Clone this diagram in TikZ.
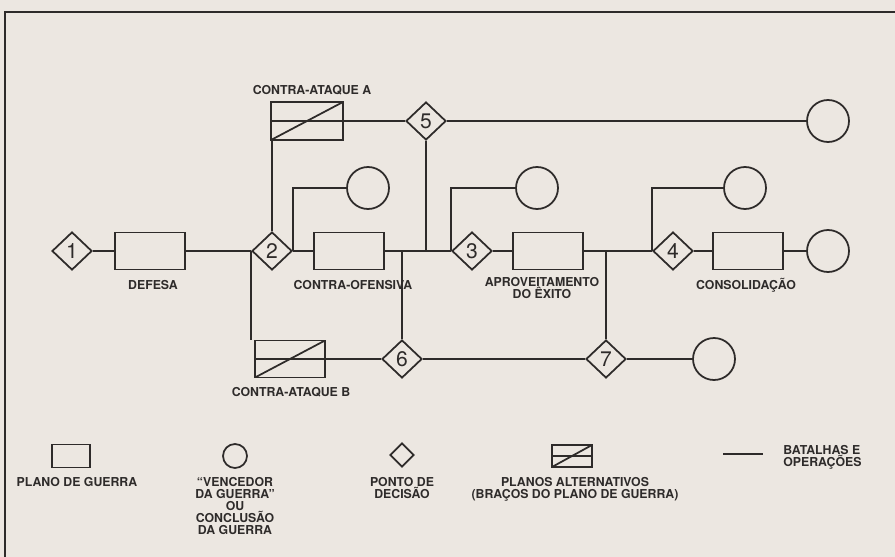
\documentclass[tikz,border=0pt]{standalone}
\usepackage{fontspec}
\setmainfont{TeX Gyre Heros}
\usepackage{xcolor}
\usepackage{tikz}
\usetikzlibrary{shapes.geometric}
\definecolor{paper}{HTML}{ECE7E1}
\definecolor{ink}{HTML}{2E2B2A}
\tikzset{
  plan/.style={
    draw=ink,
    line width=1pt,
    minimum width=1.4cm,
    minimum height=0.74cm,
    inner sep=0pt
  },
  altplan/.style={
    plan,
    path picture={
      \draw[ink, line width=1pt] (path picture bounding box.west) -- (path picture bounding box.east);
      \draw[ink, line width=1pt] (path picture bounding box.south west) -- (path picture bounding box.north east);
    }
  },
  decision/.style={
    diamond,
    draw=ink,
    line width=1pt,
    minimum width=0.8cm,
    minimum height=0.76cm,
    inner sep=0pt,
    text=ink,
    font=\fontsize{12}{12}\selectfont
  },
  outcome/.style={circle, draw=ink, line width=1pt, minimum size=0.84cm, inner sep=0pt},
  battle/.style={draw=ink, line width=1pt},
  frame/.style={draw=ink, line width=1.2pt},
  lbl/.style={font=\fontsize{7}{6.8}\selectfont\bfseries, text=ink, align=center, inner sep=0pt}
}

\begin{document}
\begin{tikzpicture}[x=0.02cm,y=-0.02cm]
\fill[paper] (0,0) rectangle (895,557);
\useasboundingbox (0,0) rectangle (895,557);
\draw[frame] (5,557) -- (5,12) -- (895,12);

% main course of the war
\node[decision] (d1) at (72,251) {1};
\node[plan] (def) at (150,251) {};
\node[decision] (d2) at (272,251) {2};
\node[plan] (cof) at (349,251) {};
\node[decision] (d3) at (472,251) {3};
\node[plan] (apr) at (548,251) {};
\node[decision] (d4) at (673,251) {4};
\node[plan] (con) at (748,251) {};
\node[outcome] (c4b) at (828,251) {};

% branches
\node[altplan, minimum width=1.44cm, minimum height=0.76cm] (caa) at (307,121) {};
\node[decision] (d5) at (426,121) {5};
\node[outcome] (c5) at (828,121) {};
\node[outcome] (c2) at (368,188) {};
\node[outcome] (c3) at (537,188) {};
\node[outcome] (c4) at (745,188) {};
\node[altplan] (cab) at (290,359) {};
\node[decision] (d6) at (402,359) {6};
\node[decision] (d7) at (606,359) {7};
\node[outcome] (c7) at (714,359) {};

\node[lbl] (lcaa) at (312,90) {CONTRA-ATAQUE A};
\node[lbl] (ldef) at (153,285) {DEFESA};
\node[lbl] (lcof) at (353,285) {CONTRA-OFENSIVA};
\node[lbl] (lapr) at (542,288) {APROVEITAMENTO\\DO ÊXITO};
\node[lbl] (lcon) at (746,285) {CONSOLIDAÇÃO};
\node[lbl] (lcab) at (291,392) {CONTRA-ATAQUE B};

\draw[battle] (d1) -- (def);
\draw[battle] (def) -- (d2);
\draw[battle] (d2) -- (cof);
\draw[battle] (cof) -- (d3);
\draw[battle] (d3) -- (apr);
\draw[battle] (apr) -- (d4);
\draw[battle] (d4) -- (con);
\draw[battle] (con) -- (c4b);
\draw[battle] (d2.north) -- (d2.north |- caa.south);
\draw[battle] (caa) -- (d5);
\draw[battle] (d5) -- (c5);
\draw[battle] (d5.south) -- (d5.south |- cof.east);
\draw[battle] (d2.east) |- (c2.west);
\draw[battle] (d3.west) |- (c3.west);
\draw[battle] (d4.west) |- (c4.west);
\draw[battle] (d2.west) -- (d2.west |- cab.north);
\draw[battle] (cab) -- (d6);
\draw[battle] (d6.north |- cof.east) -- (d6.north);
\draw[battle] (d6) -- (d7);
\draw[battle] (d7.north |- apr.east) -- (d7.north);
\draw[battle] (d7) -- (c7);

% legend
\node[plan, minimum width=0.76cm, minimum height=0.46cm] (kplan) at (71,456) {};
\node[outcome, minimum size=0.48cm] (kout) at (235,456) {};
\node[decision, minimum width=0.48cm, minimum height=0.48cm] (kdec) at (402,455) {};
\node[altplan, minimum width=0.8cm, minimum height=0.44cm] (kalt) at (572,456) {};
\coordinate (kb1) at (723,454);
\coordinate (kb2) at (763,454);
\draw[battle] (kb1) -- (kb2);

\node[lbl, anchor=north] (lkplan) at (77,477) {PLANO DE GUERRA};
\node[lbl, anchor=north] (lkout) at (235,477) {``VENCEDOR\\DA GUERRA''\\OU\\CONCLUSÃO\\DA GUERRA};
\node[lbl, anchor=north] (lkdec) at (402,477) {PONTO DE\\DECISÃO};
\node[lbl, anchor=north] (lkalt) at (575,477) {PLANOS ALTERNATIVOS\\(BRAÇOS DO PLANO DE GUERRA)};
\node[lbl, anchor=west, align=left] (lkb) at (783,457) {BATALHAS E\\OPERAÇÕES};

\end{tikzpicture}
\end{document}
